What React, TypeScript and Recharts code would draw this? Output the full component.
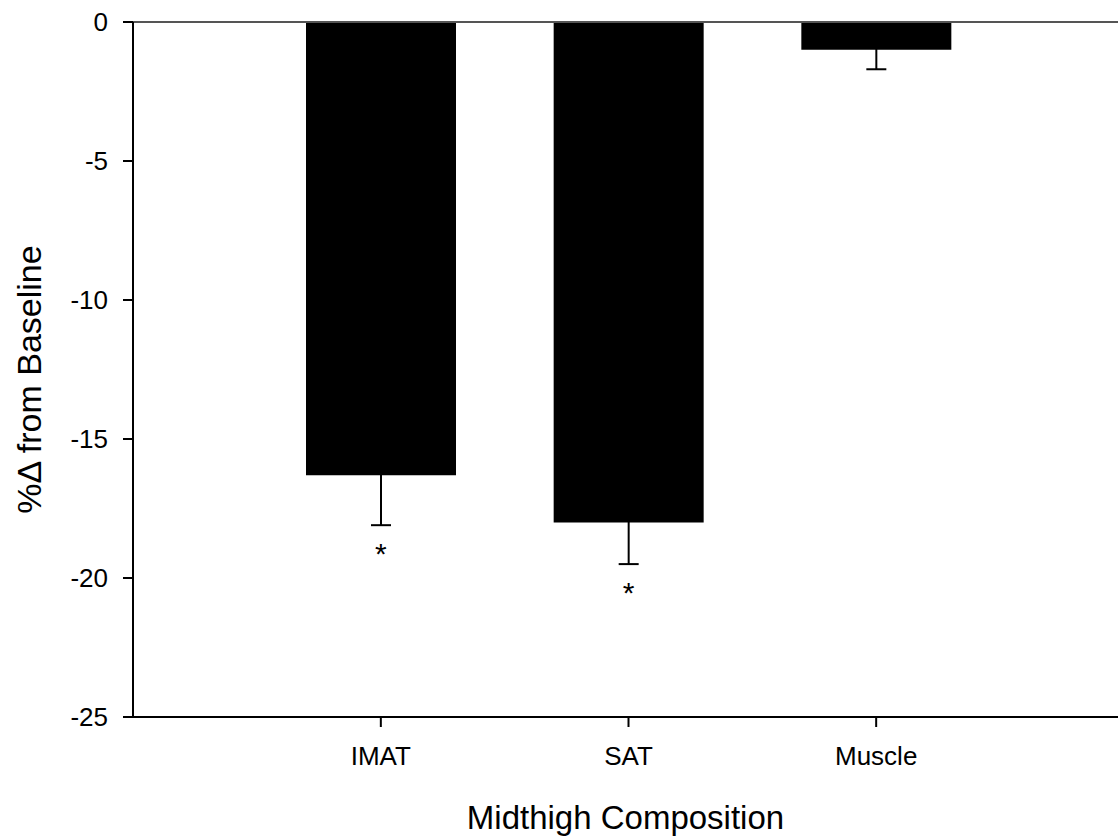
import {
  ComposedChart,
  Bar,
  ErrorBar,
  Scatter,
  XAxis,
  YAxis,
  ReferenceLine,
  Label,
} from "recharts";

const categories = ["IMAT", "SAT", "Muscle"];
const pctChange = [-16.3, -18.0, -1.0];
const stdError = [1.8, 1.5, 0.7];
// position of the significance asterisk (null = not significant)
const starLevel: (number | null)[] = [-18.9, -20.3, null];
const yTicks = [0, -5, -10, -15, -20, -25];

const FONT = "'Liberation Sans', Arial, Helvetica, sans-serif";

const data = categories.map((name, i) => ({
  name,
  value: pctChange[i],
  err: stdError[i],
  star: starLevel[i],
}));

function StarShape(props: any) {
  const { cx, cy, payload } = props;
  if (payload == null || payload.star == null || cx == null || cy == null) return null;
  return (
    <text x={cx} y={cy + 17} textAnchor="middle" fontSize={30} fontFamily={FONT} fill="#000">
      *
    </text>
  );
}

function YTitle(props: any) {
  const vb = props.viewBox || { x: 0, y: 0, width: 0, height: 0 };
  const cx = vb.x + 41;
  const cy = vb.y + vb.height / 2 + 10;
  return (
    <text
      transform={`translate(${cx}, ${cy}) rotate(-90)`}
      textAnchor="middle"
      fontSize={34}
      fontFamily={FONT}
      fill="#000"
    >
      %Δ from Baseline
    </text>
  );
}

export default function App() {
  return (
    <div style={{ position: "absolute", left: 0, top: 0, width: 1118, height: 836, background: "#fff" }}>
      <ComposedChart
        width={1118}
        height={836}
        data={data}
        margin={{ top: 22, right: 0, bottom: 0, left: 0 }}
        style={{ fontFamily: FONT }}
      >
        <XAxis
          dataKey="name"
          type="category"
          padding={{ left: 124, right: 118 }}
          height={119}
          tickSize={10}
          tickMargin={20}
          tick={{ fontSize: 26, fill: "#000", fontFamily: FONT }}
          axisLine={{ stroke: "#000", strokeWidth: 2 }}
          tickLine={{ stroke: "#000", strokeWidth: 2 }}
        >
          <Label
            value="Midthigh Composition"
            position="insideBottom"
            offset={7}
            style={{ fontSize: 33, fill: "#000", fontFamily: FONT }}
          />
        </XAxis>
        <YAxis
          type="number"
          domain={[-25, 0]}
          ticks={yTicks}
          width={133}
          tickSize={10}
          tickMargin={15}
          tick={{ fontSize: 26, fill: "#000", fontFamily: FONT }}
          axisLine={{ stroke: "#000", strokeWidth: 2 }}
          tickLine={{ stroke: "#000", strokeWidth: 2 }}
        >
          <Label content={<YTitle />} />
        </YAxis>
        <ReferenceLine y={0} stroke="#555" strokeWidth={2} />
        <Bar dataKey="value" fill="#000" barSize={150} isAnimationActive={false}>
          <ErrorBar dataKey="err" direction="y" width={10} stroke="#000" strokeWidth={2} />
        </Bar>
        <Scatter dataKey="star" shape={<StarShape />} isAnimationActive={false} />
      </ComposedChart>
    </div>
  );
}
